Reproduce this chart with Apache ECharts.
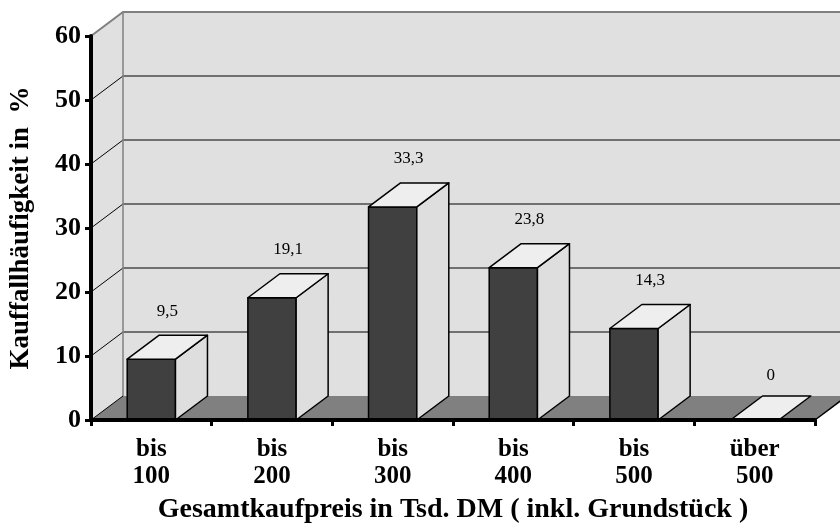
<!DOCTYPE html>
<html>
<head>
<meta charset="utf-8">
<script src="https://cdn.jsdelivr.net/npm/echarts@6/dist/echarts.min.js"></script>
<style>
  html, body { margin: 0; padding: 0; background: #fff; }
  #chart { width: 840px; height: 530px; }
</style>
</head>
<body>
<div id="chart"></div>
<script>
// Purchase price classes and the share of purchases in each class (%)
const categories = ['bis\n100', 'bis\n200', 'bis\n300', 'bis\n400', 'bis\n500', 'über\n500'];
const shares = [9.5, 19.1, 33.3, 23.8, 14.3, 0];
const yTicks = [0, 10, 20, 30, 40, 50, 60];

// Pseudo-3D depth offset of the columns and walls (pixels)
const DX = 32, DY = -24;
const SERIF = '"Liberation Serif", "Times New Roman", serif';

const chart = echarts.init(document.getElementById('chart'), null, { renderer: 'canvas' });

function pts(arr) { return arr.map(p => [p[0], p[1]]); }

// Side wall, back wall, floor and gridlines
function renderWalls(params, api) {
  const cs = params.coordSys;
  const x0 = cs.x, x1 = cs.x + cs.width;
  const yBase = api.coord([0, 0])[1];
  const yTop = api.coord([0, yTicks[yTicks.length - 1]])[1];
  const children = [];
  // side wall
  children.push({
    type: 'polygon',
    shape: { points: pts([[x0, yBase], [x0, yTop], [x0 + DX, yTop + DY], [x0 + DX, yBase + DY]]) },
    style: { fill: '#e0e0e0', stroke: null }
  });
  // back wall
  children.push({
    type: 'rect',
    shape: { x: x0 + DX, y: yTop + DY, width: x1 - x0, height: yBase - yTop },
    style: { fill: '#e0e0e0', stroke: null }
  });
  // gridlines on both walls
  yTicks.forEach(v => {
    if (v === 0) return;
    const y = api.coord([0, v])[1];
    const last = v === yTicks[yTicks.length - 1];
    children.push({
      type: 'polyline',
      shape: { points: [[x0, y], [x0 + DX, y + DY], [x1 + DX, y + DY]] },
      style: { stroke: last ? '#808080' : '#000', lineWidth: last ? 2 : 1, fill: null }
    });
  });
  // corner edge between side wall and back wall
  children.push({
    type: 'line',
    shape: { x1: x0 + DX, y1: yTop + DY, x2: x0 + DX, y2: yBase + DY },
    style: { stroke: '#808080', lineWidth: 1.5 }
  });
  // floor
  children.push({
    type: 'polygon',
    shape: { points: pts([[x0, yBase], [x1, yBase], [x1 + DX, yBase + DY], [x0 + DX, yBase + DY]]) },
    style: { fill: '#808080', stroke: null }
  });
  children.push({
    type: 'polyline',
    shape: { points: [[x0, yBase], [x0 + DX, yBase + DY]] },
    style: { stroke: '#000', lineWidth: 1, fill: null }
  });
  children.push({
    type: 'polyline',
    shape: { points: [[x1, yBase], [x1 + DX, yBase + DY]] },
    style: { stroke: '#000', lineWidth: 1.5, fill: null }
  });
  return { type: 'group', children: children };
}

// One 3D column: front, side and top faces plus its value label
function renderColumn(params, api) {
  const idx = api.value(0);
  const v = api.value(1);
  const top = api.coord([idx, v]);
  const base = api.coord([idx, 0]);
  const bw = api.size([1, 0])[0] * 0.4;
  const xl = top[0] - bw / 2, xr = top[0] + bw / 2;
  const yt = top[1], yb = base[1];
  const edge = { stroke: '#000', lineWidth: 1.5, lineJoin: 'round' };
  const children = [];
  if (yb - yt > 0.5) {
    children.push({
      type: 'polygon',
      shape: { points: pts([[xl, yb], [xl, yt], [xr, yt], [xr, yb]]) },
      style: Object.assign({ fill: '#404040' }, edge)
    });
    children.push({
      type: 'polygon',
      shape: { points: pts([[xr, yb], [xr, yt], [xr + DX, yt + DY], [xr + DX, yb + DY]]) },
      style: Object.assign({ fill: '#dedede' }, edge)
    });
  }
  children.push({
    type: 'polygon',
    shape: { points: pts([[xl, yt], [xr, yt], [xr + DX, yt + DY], [xl + DX, yt + DY]]) },
    style: Object.assign({ fill: '#eeeeee' }, edge)
  });
  children.push({
    type: 'text',
    x: top[0] + DX / 2,
    y: yt - (v > 0 ? 48 : 44),
    style: {
      text: String(v).replace('.', ','),
      font: '17px ' + SERIF,
      fill: '#000',
      align: 'center',
      verticalAlign: 'middle'
    }
  });
  return { type: 'group', children: children };
}

chart.setOption({
  animation: false,
  backgroundColor: '#fff',
  grid: { left: 91, right: 25, top: 36, bottom: 110 },
  xAxis: {
    type: 'category',
    data: categories,
    z: 10,
    name: 'Gesamtkaufpreis in Tsd. DM ( inkl. Grundstück )',
    nameLocation: 'middle',
    nameGap: 76,
    nameTextStyle: { fontFamily: SERIF, fontWeight: 'bold', fontSize: 28, color: '#000' },
    axisLine: { show: true, lineStyle: { color: '#000', width: 4 } },
    axisTick: { show: true, length: 6, lineStyle: { color: '#000', width: 3 } },
    axisLabel: {
      margin: 16,
      fontFamily: SERIF, fontWeight: 'bold', fontSize: 25, color: '#000',
      lineHeight: 27
    },
    splitLine: { show: false }
  },
  yAxis: {
    type: 'value',
    min: 0, max: 60, interval: 10,
    z: 10,
    name: 'Kauffallhäufigkeit in  %',
    nameLocation: 'middle',
    nameGap: 56,
    nameTextStyle: { fontFamily: SERIF, fontWeight: 'bold', fontSize: 27, color: '#000' },
    axisLine: { show: true, lineStyle: { color: '#000', width: 4 } },
    axisTick: { show: true, length: 6, lineStyle: { color: '#000', width: 3 } },
    axisLabel: { margin: 10, fontFamily: SERIF, fontWeight: 'bold', fontSize: 26, color: '#000' },
    splitLine: { show: false }
  },
  series: [
    {
      type: 'custom',
      silent: true,
      z: 1,
      data: [[0, 0]],
      renderItem: renderWalls
    },
    {
      type: 'custom',
      silent: true,
      z: 2,
      data: shares.map((v, i) => [i, v]),
      encode: { x: 0, y: 1 },
      renderItem: renderColumn
    }
  ]
});
</script>
</body>
</html>
